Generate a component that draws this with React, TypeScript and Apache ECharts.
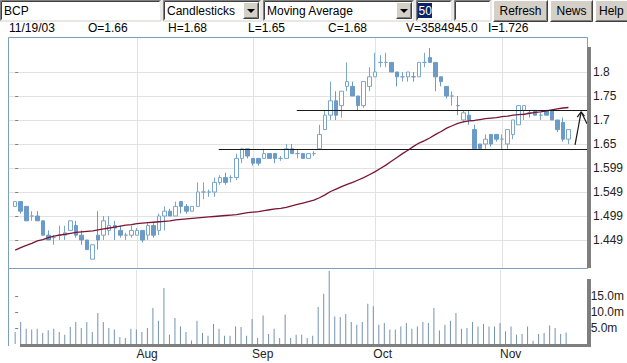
import { useEffect, useRef } from "react";
import * as echarts from "echarts";

// ---------- header texts ----------
const TICKER = "BCP";
const CHART_TYPE = "Candlesticks";
const STUDY = "Moving Average";
const STUDY_PERIOD = "50";
const BUTTONS = ["Refresh", "News", "Help"];
const INFO = ["11/19/03", "O=1.66", "H=1.68", "L=1.65", "C=1.68", "V=3584945.0", "I=1.726"];

// ---------- daily data, 1 Jul 2003 .. 19 Nov 2003 (trading-day index) ----------
const OPEN = [
  1.52, 1.53, 1.52, 1.50, 1.50, 1.49, 1.46, 1.455, 1.46, 1.46,
  1.47, 1.48, 1.46, 1.45, 1.41, 1.46, 1.46, 1.47, 1.48, 1.47,
  1.46, 1.46, 1.46, 1.47, 1.46, 1.48, 1.47, 1.50, 1.51, 1.50,
  1.53, 1.52, 1.51, 1.52, 1.55, 1.55, 1.55, 1.57, 1.58, 1.58,
  1.58, 1.62, 1.64, 1.62, 1.62, 1.62, 1.63, 1.63, 1.62, 1.62,
  1.64, 1.63, 1.63, 1.62, 1.63, 1.64, 1.68, 1.71, 1.74, 1.73,
  1.77, 1.77, 1.75, 1.73, 1.77, 1.79, 1.82, 1.82, 1.82, 1.80,
  1.79, 1.79, 1.79, 1.79, 1.82, 1.83, 1.82, 1.79, 1.77, 1.75,
  1.73, 1.70, 1.71, 1.68, 1.65, 1.65, 1.67, 1.67, 1.66, 1.65,
  1.67, 1.69, 1.72, 1.715, 1.72, 1.71, 1.72, 1.72, 1.70, 1.695,
  1.66,
];
const HIGH = [
  1.53, 1.53, 1.52, 1.51, 1.51, 1.49, 1.47, 1.46, 1.48, 1.48,
  1.49, 1.49, 1.47, 1.45, 1.44, 1.51, 1.50, 1.50, 1.49, 1.48,
  1.465, 1.48, 1.475, 1.47, 1.485, 1.485, 1.505, 1.52, 1.515, 1.53,
  1.53, 1.525, 1.52, 1.57, 1.57, 1.555, 1.58, 1.585, 1.59, 1.585,
  1.63, 1.64, 1.64, 1.62, 1.62, 1.64, 1.63, 1.63, 1.625, 1.65,
  1.65, 1.64, 1.63, 1.63, 1.635, 1.69, 1.72, 1.78, 1.76, 1.76,
  1.82, 1.78, 1.75, 1.78, 1.81, 1.84, 1.835, 1.84, 1.82, 1.80,
  1.80, 1.80, 1.80, 1.82, 1.84, 1.85, 1.82, 1.79, 1.77, 1.76,
  1.75, 1.72, 1.72, 1.69, 1.65, 1.67, 1.67, 1.67, 1.67, 1.68,
  1.70, 1.73, 1.73, 1.72, 1.72, 1.715, 1.72, 1.72, 1.70, 1.705,
  1.68,
];
const LOW = [
  1.52, 1.505, 1.49, 1.49, 1.49, 1.46, 1.45, 1.44, 1.45, 1.45,
  1.47, 1.455, 1.44, 1.43, 1.41, 1.43, 1.45, 1.46, 1.45, 1.455,
  1.45, 1.455, 1.46, 1.445, 1.45, 1.455, 1.46, 1.47, 1.50, 1.50,
  1.505, 1.505, 1.51, 1.52, 1.535, 1.54, 1.54, 1.565, 1.565, 1.57,
  1.575, 1.61, 1.62, 1.605, 1.605, 1.62, 1.62, 1.61, 1.615, 1.62,
  1.63, 1.62, 1.62, 1.62, 1.625, 1.64, 1.68, 1.70, 1.70, 1.705,
  1.76, 1.75, 1.72, 1.725, 1.76, 1.79, 1.81, 1.81, 1.80, 1.77,
  1.78, 1.78, 1.78, 1.79, 1.81, 1.82, 1.76, 1.77, 1.745, 1.73,
  1.71, 1.695, 1.69, 1.64, 1.64, 1.64, 1.645, 1.655, 1.64, 1.64,
  1.66, 1.69, 1.70, 1.705, 1.71, 1.70, 1.71, 1.70, 1.675, 1.655,
  1.65,
];
const CLOSE = [
  1.53, 1.51, 1.49, 1.50, 1.49, 1.46, 1.45, 1.455, 1.46, 1.465,
  1.49, 1.46, 1.45, 1.43, 1.44, 1.45, 1.49, 1.48, 1.475, 1.46,
  1.46, 1.47, 1.47, 1.45, 1.48, 1.46, 1.50, 1.51, 1.50, 1.52,
  1.52, 1.51, 1.52, 1.55, 1.55, 1.55, 1.57, 1.58, 1.57, 1.58,
  1.62, 1.64, 1.625, 1.61, 1.61, 1.63, 1.62, 1.62, 1.62, 1.64,
  1.63, 1.63, 1.62, 1.63, 1.63, 1.67, 1.71, 1.74, 1.71, 1.76,
  1.78, 1.75, 1.73, 1.78, 1.79, 1.80, 1.82, 1.82, 1.80, 1.79,
  1.79, 1.80, 1.79, 1.82, 1.82, 1.82, 1.79, 1.78, 1.75, 1.75,
  1.73, 1.715, 1.70, 1.64, 1.64, 1.66, 1.65, 1.66, 1.66, 1.68,
  1.70, 1.73, 1.73, 1.715, 1.71, 1.71, 1.71, 1.70, 1.68, 1.66,
  1.68,
];
// 50-day moving average as drawn
const MA50 = [
  1.429, 1.434, 1.439, 1.443, 1.448, 1.451, 1.455, 1.458, 1.460, 1.462,
  1.464, 1.466, 1.467, 1.468, 1.469, 1.471, 1.473, 1.475, 1.477, 1.479,
  1.481, 1.482, 1.484, 1.485, 1.486, 1.487, 1.488, 1.489, 1.490, 1.492,
  1.493, 1.494, 1.495, 1.496, 1.497, 1.498, 1.499, 1.500, 1.501, 1.502,
  1.503, 1.505, 1.507, 1.508, 1.509, 1.511, 1.513, 1.515, 1.516, 1.518,
  1.521, 1.524, 1.527, 1.530, 1.533, 1.538, 1.544, 1.551, 1.556, 1.561,
  1.566, 1.570, 1.575, 1.580, 1.586, 1.592, 1.599, 1.606, 1.614, 1.622,
  1.630, 1.637, 1.645, 1.652, 1.657, 1.663, 1.670, 1.676, 1.683, 1.688,
  1.693, 1.696, 1.698, 1.699, 1.701, 1.703, 1.704, 1.705, 1.707, 1.708,
  1.710, 1.711, 1.712, 1.714, 1.716, 1.717, 1.719, 1.721, 1.723, 1.725,
  1.726,
];
// volume, millions of shares
const VOLUME = [
  3.75, 6.9, 4.8, 4.5, 4.8, 3.4, 4.3, 4.8, 3.75, 2.9,
  5.3, 6.9, 5.0, 6.9, 3.75, 9.7, 6.9, 5.0, 4.5, 2.2,
  1.9, 4.8, 4.5, 3.75, 5.0, 11.25, 7.3, 17.5, 2.9, 8.1,
  5.5, 3.75, 1.1, 7.3, 3.4, 2.6, 6.25, 4.8, 2.6, 2.6,
  5.5, 5.3, 2.6, 7.8, 1.9, 8.9, 3.1, 4.8, 1.9, 9.2,
  1.9, 2.9, 2.9, 1.9, 2.6, 11.6, 15.7, 22.8, 8.6, 8.4,
  9.4, 6.9, 6.0, 6.9, 12.6, 11.8, 6.0, 6.6, 4.5, 4.5,
  5.5, 6.6, 4.8, 5.5, 6.9, 6.6, 11.25, 4.2, 6.0, 7.3,
  9.7, 4.8, 5.0, 6.9, 5.5, 6.25, 5.5, 5.5, 6.6, 4.0,
  5.5, 2.9, 3.1, 5.5, 1.0, 3.1, 3.4, 5.8, 5.0, 3.1,
  3.58,
];

// ---------- axes ----------
const MONTH_IDX = [22, 43, 65, 88];
const MONTH_LABELS = ["Aug", "Sep", "Oct", "Nov"];
const PRICE_TICKS = [1.45, 1.5, 1.55, 1.6, 1.65, 1.7, 1.75, 1.8];
const PRICE_TICK_LABELS = ["1.449", "1.499", "1.549", "1.599", "1.65", "1.7", "1.75", "1.8"];
const VOL_TICKS = [5, 10, 15];
const VOL_TICK_LABELS = ["5.0m", "10.0m", "15.0m"];
const X_MIN = -1.3;
const X_MAX = 103.36;
const P_MIN = 1.39167;
const P_MAX = 1.87083;
const V_MAX = 23.125;

// ---------- drawn annotations (data coordinates) ----------
const SUPPORT = { from: 36.8, value: 1.64 };
const RESIST = { from: 50.9, value: 1.72 };
const ARROW = [
  [101.2, 1.648],
  [102.3, 1.717],
  [103.36, 1.692],
];
const ARROW_BARBS = [
  [101.6, 1.706],
  [102.9, 1.708],
];

const FONT = "Liberation Sans, Arial, sans-serif";

function txt(text: string, x: number, y: number, size = 12, fill = "#000", align = "left") {
  return {
    type: "text",
    x,
    y,
    z: 20,
    style: {
      text,
      fill,
      font: `${size}px ${FONT}`,
      align,
      verticalAlign: "middle",
      textAlign: align,
      textVerticalAlign: "middle",
    },
  };
}
function pline(points: number[][], stroke: string, lw = 1, z = 20) {
  return { type: "polyline", z, shape: { points }, style: { stroke, lineWidth: lw, fill: null } };
}
function sunken(x: number, y: number, w: number, h: number) {
  return [
    { type: "rect", z: 10, shape: { x, y, width: w, height: h }, style: { fill: "#ffffff", stroke: "#d4d0c8", lineWidth: 1 } },
    pline([[x + 0.5, y + h - 0.5], [x + 0.5, y + 0.5], [x + w - 0.5, y + 0.5]], "#808080"),
    pline([[x + 1.5, y + h - 1.5], [x + 1.5, y + 1.5], [x + w - 1.5, y + 1.5]], "#404040"),
  ];
}
function raised(x: number, y: number, w: number, h: number) {
  return [
    { type: "rect", z: 10, shape: { x, y, width: w, height: h }, style: { fill: "#d4d0c8" } },
    pline([[x + 0.5, y + h - 0.5], [x + 0.5, y + 0.5], [x + w - 0.5, y + 0.5]], "#ffffff"),
    pline([[x + 0.5, y + h - 0.5], [x + w - 0.5, y + h - 0.5], [x + w - 0.5, y + 0.5]], "#404040"),
    pline([[x + 1.5, y + h - 1.5], [x + w - 1.5, y + h - 1.5], [x + w - 1.5, y + 1.5]], "#808080"),
  ];
}
function dropBtn(x: number, y: number) {
  const cx = x + 8;
  const cy = y + 9;
  return [
    ...raised(x, y, 16, 17),
    { type: "polygon", z: 21, shape: { points: [[cx - 4, cy - 2], [cx + 4, cy - 2], [cx, cy + 2]] }, style: { fill: "#000" } },
  ];
}

const INFO_X = [9, 88, 168, 248, 328, 406, 488];

function buildGraphic() {
  const g: any[] = [];
  // toolbar
  g.push(...sunken(0, 0, 161, 21), txt(TICKER, 4, 11, 12));
  g.push(...sunken(163, 0, 98, 21), txt(CHART_TYPE, 167, 11, 12), ...dropBtn(243, 2));
  g.push(...sunken(263, 0, 151, 21), txt(STUDY, 267, 11, 12), ...dropBtn(396, 2));
  g.push(...sunken(416, 0, 36, 21));
  g.push({ type: "rect", z: 19, shape: { x: 418, y: 3, width: 14, height: 15 }, style: { fill: "#0a246a" } });
  g.push(txt(STUDY_PERIOD, 418.5, 11, 12, "#ffffff"));
  g.push(...sunken(454, 0, 37, 21));
  const bx = [493, 550, 595];
  const bw = [55, 43, 45];
  const tx = [bx[0] + bw[0] / 2, bx[1] + bw[1] / 2, 599];
  const ta = ["center", "center", "left"];
  BUTTONS.forEach((b, i) => {
    g.push(...raised(bx[i], 0, bw[i], 22), txt(b, tx[i], 11, 12, "#000", ta[i]));
  });
  // info line
  INFO.forEach((t, i) => g.push(txt(t, INFO_X[i], 28, 12)));
  // panel frame
  const frame = "#7d9ebd";
  g.push(pline([[8.5, 346], [8.5, 37.5], [587.5, 37.5], [587.5, 268.5]], frame, 1, 30));
  g.push(pline([[8.5, 268.5], [587.5, 268.5]], frame, 1, 30));
  // shadows
  g.push({ type: "rect", z: 30, shape: { x: 587, y: 47, width: 4, height: 221 }, style: { fill: "#7f7f7f" } });
  g.push({ type: "rect", z: 30, shape: { x: 587, y: 279, width: 4, height: 68 }, style: { fill: "#7f7f7f" } });
  g.push({ type: "rect", z: 30, shape: { x: 20, y: 344, width: 571, height: 3 }, style: { fill: "#7f7f7f" } });
  return g;
}

function priceLabel(v: number) {
  const i = PRICE_TICKS.findIndex((t) => Math.abs(t - v) < 1e-6);
  return i >= 0 ? PRICE_TICK_LABELS[i] : "";
}
function volLabel(v: number) {
  const i = VOL_TICKS.findIndex((t) => Math.abs(t - v) < 1e-6);
  return i >= 0 ? VOL_TICK_LABELS[i] : "";
}
function monthLabel(v: number) {
  const i = MONTH_IDX.indexOf(Math.round(v));
  return i >= 0 ? MONTH_LABELS[i] : "";
}

function buildOption(): any {
  const candles = OPEN.map((o, i) => [i, o, CLOSE[i], LOW[i], HIGH[i]]);
  const ma = MA50.map((v, i) => [i, v]);
  const vol = VOLUME.map((v, i) => [i, v]);
  const lineStyle = { color: "#1a1a1a", width: 1.2, type: "solid" };
  const seg = (a: number[], b: number[]) => [{ coord: a }, { coord: b }];
  return {
    animation: false,
    backgroundColor: "#ffffff",
    textStyle: { fontFamily: FONT },
    grid: [
      { left: 8, top: 38, width: 579, height: 230 },
      { left: 8, top: 270, width: 579, height: 74 },
    ],
    xAxis: [
      {
        type: "value", gridIndex: 0, min: X_MIN, max: X_MAX,
        axisLine: { show: false },
        axisTick: { show: false, customValues: MONTH_IDX },
        axisLabel: { show: false, customValues: MONTH_IDX },
        splitLine: { show: true, lineStyle: { color: "#e2e2e2", width: 1 } },
      },
      {
        type: "value", gridIndex: 1, min: X_MIN, max: X_MAX,
        axisLine: { show: false },
        axisTick: { show: false, customValues: MONTH_IDX },
        axisLabel: {
          show: true, customValues: MONTH_IDX, formatter: monthLabel, align: "left",
          margin: 4, fontSize: 12, color: "#222", fontFamily: FONT,
        },
        splitLine: { show: true, lineStyle: { color: "#e2e2e2", width: 1 } },
      },
    ],
    yAxis: [
      {
        type: "value", gridIndex: 0, position: "right", min: P_MIN, max: P_MAX,
        axisLine: { show: false },
        axisTick: { show: true, customValues: PRICE_TICKS, length: 3, lineStyle: { color: "#7f7f7f" } },
        axisLabel: { customValues: PRICE_TICKS, formatter: priceLabel, margin: 6, fontSize: 12, color: "#222", fontFamily: FONT },
        splitLine: { show: true, lineStyle: { color: "#e2e2e2", width: 1 } },
      },
      {
        type: "value", gridIndex: 1, position: "right", min: 0, max: V_MAX,
        axisLine: { show: false },
        axisTick: { show: true, customValues: VOL_TICKS, length: 3, lineStyle: { color: "#7f7f7f" } },
        axisLabel: { customValues: VOL_TICKS, formatter: volLabel, margin: 6, fontSize: 12, color: "#222", fontFamily: FONT },
        splitLine: { show: false },
      },
    ],
    series: [
      {
        type: "candlestick", xAxisIndex: 0, yAxisIndex: 0, data: candles,
        barWidth: 4, z: 3,
        itemStyle: { color: "#ffffff", color0: "#6b9bc6", borderColor: "#7aa5cc", borderColor0: "#6b9bc6", borderWidth: 1 },
        emphasis: { disabled: true },
        markLine: {
          silent: true, symbol: ["none", "none"], label: { show: false }, lineStyle,
          emphasis: { disabled: true },
          data: [
            seg([SUPPORT.from, SUPPORT.value], [X_MAX, SUPPORT.value]),
            seg([RESIST.from, RESIST.value], [X_MAX, RESIST.value]),
            seg(ARROW[0], ARROW[1]),
            seg(ARROW[1], ARROW[2]),
            seg(ARROW_BARBS[0], ARROW[1]),
            seg(ARROW_BARBS[1], ARROW[1]),
          ],
        },
      },
      {
        type: "line", xAxisIndex: 0, yAxisIndex: 0, data: ma, z: 4,
        showSymbol: false, symbol: "none",
        lineStyle: { color: "#7a1532", width: 1.3 },
        emphasis: { disabled: true },
      },
      {
        type: "bar", xAxisIndex: 1, yAxisIndex: 1, data: vol,
        barWidth: 1, itemStyle: { color: "#7393b0" },
        emphasis: { disabled: true },
      },
    ],
    graphic: buildGraphic(),
  };
}

export default function App() {
  const ref = useRef<HTMLDivElement>(null);
  useEffect(() => {
    const chart = echarts.init(ref.current!, null, { renderer: "svg" });
    chart.setOption(buildOption());
    return () => chart.dispose();
  }, []);
  return (
    <div
      ref={ref}
      style={{ position: "fixed", left: 0, top: 0, width: 627, height: 363, background: "#ffffff" }}
    />
  );
}
